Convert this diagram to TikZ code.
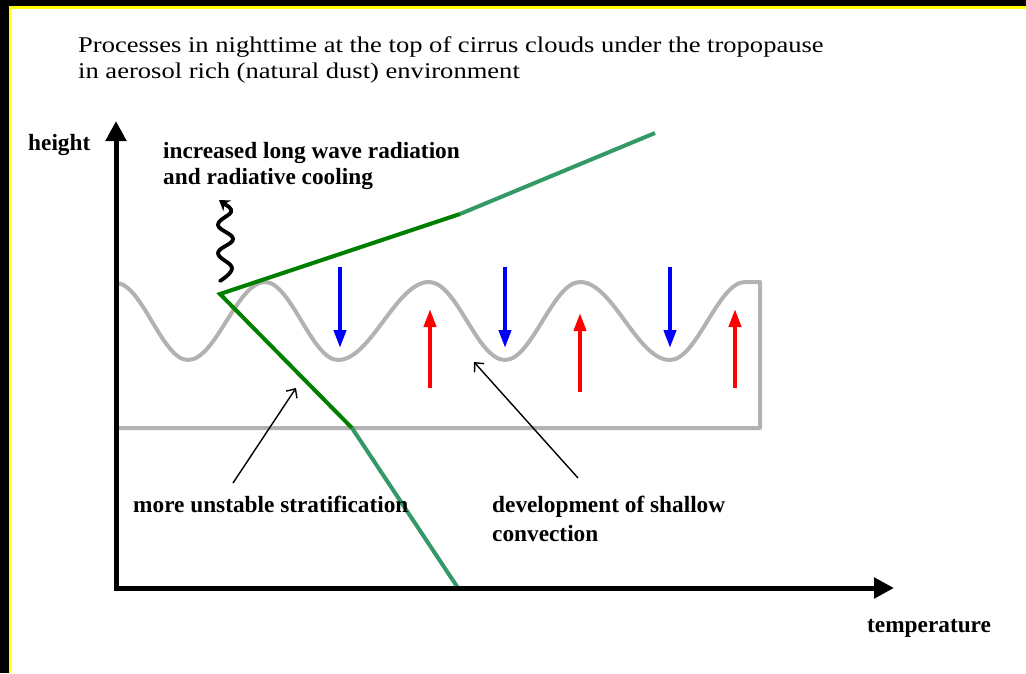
\documentclass[tikz,border=0pt]{standalone}
\usepackage{fontspec}
\setmainfont{Liberation Serif}
\newfontfamily\titlefont[FakeStretch=1.18]{Liberation Serif}
\usetikzlibrary{arrows.meta}
\definecolor{wavegray}{RGB}{178,178,178}
\definecolor{dgreen}{RGB}{0,128,0}
\definecolor{tgreen}{RGB}{51,153,102}
\definecolor{bord}{RGB}{255,255,0}
\tikzset{
  axisline/.style={line width=5pt,-{Triangle[width=20pt,length=20pt]}},
  downarrow/.style={blue,line width=4pt,-{Triangle[width=12pt,length=18pt]}},
  uparrow/.style={red,line width=4pt,-{Triangle[width=12pt,length=18pt]}},
  pointer/.style={line width=1.4pt,-{Straight Barb[length=7pt,width=13pt]}},
  lbl/.style={font=\fontsize{23.3}{27}\selectfont\bfseries,inner sep=0pt,align=left},
  titletext/.style={font=\titlefont\fontsize{22.5}{26}\selectfont,inner sep=0pt,align=left},
  wave/.style={wavegray,line width=4pt,line join=round},
  gline/.style={line width=4pt}
}
\begin{document}
\begin{tikzpicture}[x=1pt,y=-1pt]
\useasboundingbox (0,0) rectangle (1026,673);
\fill[white] (0,0) rectangle (1026,673);
% frame
\fill[black] (0,0) rectangle (1026,6);
\fill[black] (0,0) rectangle (9,673);
\fill[bord] (9,6) rectangle (1026,9);
\fill[bord] (9,6) rectangle (11,673);
% title
\node[titletext,anchor=base west] (t1) at (78,52) {Processes in nighttime at the top of cirrus clouds under the tropopause};
\node[titletext,anchor=base west] (t2) at (78,78) {in aerosol rich (natural dust) environment};
% wave box
\draw[wave] (116,283)
  .. controls +(26,0) and +(-26,0) .. (188,360)
  .. controls +(28,0) and +(-28,0) .. (265,282)
  .. controls +(26,0) and +(-26,0) .. (338,360)
  .. controls +(33,0) and +(-33,0) .. (429,282)
  .. controls +(28,0) and +(-28,0) .. (505,360)
  .. controls +(27,0) and +(-27,0) .. (580,282)
  .. controls +(33,0) and +(-33,0) .. (670,360)
  .. controls +(27,0) and +(-27,0) .. (745,282)
  -- (760,282) -- (760,428) -- (116,428);
% green lines
\coordinate (v) at (220,294);
\coordinate (ga) at (460,214);
\coordinate (gb) at (655,133);
\coordinate (gc) at (352,428);
\coordinate (gd) at (458,588);
\draw[gline,dgreen,line join=miter] (ga) -- (v) -- (gc);
\draw[gline,tgreen] (ga) -- (gb);
\draw[gline,tgreen] (gc) -- (gd);
% axes
\coordinate (o) at (116,588);
\coordinate (ytip) at (116,121);
\coordinate (xtip) at (894,588);
\draw[axisline] ([yshift=2.5pt]o) -- (ytip);
\draw[axisline] ([xshift=-2.5pt]o) -- (xtip);
% wavy radiation arrow
\draw[line width=3.8pt,line cap=round,-{Stealth[length=10pt,width=13pt]}]
  plot[smooth,tension=0.7] coordinates {(220,281) (232,268) (218,253) (233,239) (218,225) (231,212) (226,205)} -- (219,200);
% down / up arrows
\foreach \x/\n in {340/a,505/b,670/c}{
  \coordinate (bd\n) at (\x,267);
  \coordinate (be\n) at (\x,348);
  \draw[downarrow] (bd\n) -- (be\n);
}
\coordinate (rs1) at (430,388); \coordinate (re1) at (430,309);
\coordinate (rs2) at (580,392); \coordinate (re2) at (580,313);
\coordinate (rs3) at (735,388); \coordinate (re3) at (735,309);
\draw[uparrow] (rs1) -- (re1);
\draw[uparrow] (rs2) -- (re2);
\draw[uparrow] (rs3) -- (re3);
% labels
\node[lbl,anchor=base west] (h) at (28,150) {height};
\node[lbl,anchor=base west] (temp) at (867,632) {temperature};
\node[lbl,anchor=base west] (rad1) at (163,158) {increased long wave radiation};
\node[lbl,anchor=base west] (rad2) at (163,184) {and radiative cooling};
\node[lbl,anchor=base west] (mus) at (133,512) {more unstable stratification};
\node[lbl,anchor=base west] (dev1) at (492,512) {development of shallow};
\node[lbl,anchor=base west] (dev2) at (492,541) {convection};
% pointers
\coordinate (p1s) at (233,483); \coordinate (p1e) at (296,388);
\coordinate (p2s) at (578,478); \coordinate (p2e) at (474,362);
\draw[pointer] (p1s) -- (p1e);
\draw[pointer] (p2s) -- (p2e);
\end{tikzpicture}
\end{document}
